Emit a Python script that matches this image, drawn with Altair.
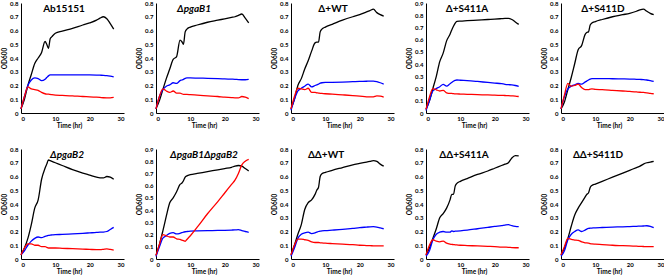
import altair as alt
import pandas as pd

T = [0, 1, 2, 3, 4, 5, 6, 7, 7.5, 8, 8.5, 9, 10, 12, 15, 18, 20, 22, 23, 24, 25, 26, 27]

TITLES = ["Ab15151", "ΔpgaB1", "Δ+WT", "Δ+S411A", "Δ+S411D",
          "ΔpgaB2", "ΔpgaB1ΔpgaB2", "ΔΔ+WT", "ΔΔ+S411A", "ΔΔ+S411D"]
YMAX = [0.8, 0.8, 0.8, 0.9, 0.8, 0.8, 0.9, 0.8, 0.8, 0.8]

P1_BLACK = [0.03,0.10,0.20,0.28,0.36,0.40,0.44,0.52,0.50,0.47,0.54,0.555,0.58,0.595,0.615,0.64,0.655,0.675,0.69,0.70,0.685,0.65,0.61]
P1_BLUE  = [0.03,0.12,0.20,0.24,0.255,0.25,0.235,0.245,0.258,0.27,0.277,0.278,0.278,0.278,0.278,0.277,0.277,0.276,0.275,0.274,0.272,0.268,0.263]
P1_RED   = [0.03,0.12,0.19,0.175,0.17,0.165,0.15,0.14,0.138,0.137,0.135,0.133,0.13,0.128,0.125,0.12,0.118,0.115,0.113,0.111,0.11,0.11,0.113]

P2_BLACK = [0.03,0.09,0.17,0.25,0.32,0.39,0.41,0.53,0.52,0.50,0.59,0.61,0.625,0.64,0.66,0.675,0.685,0.695,0.70,0.71,0.72,0.69,0.655]
P2_BLUE  = [0.03,0.12,0.17,0.195,0.205,0.22,0.215,0.235,0.24,0.245,0.252,0.255,0.255,0.254,0.252,0.25,0.248,0.246,0.245,0.243,0.242,0.242,0.245]
P2_RED   = [0.03,0.12,0.175,0.16,0.15,0.16,0.145,0.145,0.14,0.135,0.135,0.135,0.133,0.13,0.125,0.12,0.115,0.112,0.11,0.11,0.12,0.115,0.105]

P3_BLACK = [0.03,0.10,0.20,0.25,0.32,0.38,0.45,0.51,0.515,0.515,0.59,0.61,0.625,0.645,0.675,0.70,0.715,0.735,0.745,0.755,0.73,0.715,0.705]
P3_BLUE  = [0.02,0.10,0.16,0.18,0.195,0.21,0.19,0.20,0.205,0.21,0.217,0.22,0.222,0.223,0.225,0.228,0.23,0.231,0.232,0.232,0.228,0.22,0.21]
P3_RED   = [0.03,0.12,0.18,0.175,0.17,0.18,0.15,0.15,0.147,0.145,0.143,0.142,0.14,0.137,0.132,0.127,0.123,0.118,0.117,0.118,0.125,0.122,0.115]

P4_BLACK = [0.03,0.10,0.20,0.30,0.42,0.49,0.59,0.645,0.68,0.71,0.735,0.75,0.752,0.755,0.76,0.765,0.768,0.772,0.774,0.775,0.765,0.745,0.725]
P4_BLUE  = [0.02,0.10,0.18,0.20,0.215,0.235,0.22,0.24,0.25,0.26,0.267,0.27,0.268,0.265,0.258,0.25,0.245,0.24,0.235,0.232,0.23,0.225,0.218]
P4_RED   = [0.03,0.13,0.20,0.19,0.18,0.185,0.165,0.16,0.16,0.158,0.157,0.156,0.155,0.153,0.15,0.148,0.146,0.144,0.143,0.142,0.14,0.138,0.135]

P5_BLACK = [0.03,0.08,0.17,0.26,0.36,0.46,0.49,0.57,0.585,0.59,0.64,0.655,0.665,0.68,0.70,0.715,0.725,0.74,0.75,0.755,0.74,0.725,0.715]
P5_BLUE  = [0.03,0.12,0.175,0.195,0.205,0.215,0.21,0.225,0.232,0.24,0.247,0.25,0.25,0.25,0.249,0.248,0.247,0.245,0.244,0.243,0.24,0.235,0.23]
P5_RED   = [0.03,0.13,0.215,0.195,0.20,0.21,0.185,0.17,0.17,0.17,0.173,0.175,0.172,0.17,0.165,0.16,0.157,0.153,0.151,0.15,0.147,0.143,0.14]

P6_BLACK = [0.03,0.08,0.15,0.25,0.37,0.43,0.58,0.66,0.69,0.72,0.715,0.71,0.70,0.68,0.65,0.625,0.61,0.595,0.59,0.59,0.60,0.595,0.58]
P6_BLUE  = [0.03,0.06,0.10,0.13,0.15,0.16,0.155,0.165,0.168,0.172,0.174,0.175,0.177,0.179,0.183,0.187,0.19,0.193,0.195,0.196,0.20,0.215,0.23]
P6_RED   = [0.03,0.08,0.11,0.11,0.10,0.10,0.09,0.09,0.085,0.08,0.08,0.08,0.08,0.078,0.075,0.072,0.07,0.068,0.068,0.07,0.073,0.07,0.065]

P7_BLACK = [0.03,0.12,0.23,0.35,0.46,0.50,0.55,0.61,0.62,0.64,0.67,0.68,0.69,0.70,0.715,0.73,0.74,0.75,0.76,0.765,0.76,0.74,0.72]
P7_BLUE  = [0.02,0.10,0.17,0.19,0.21,0.215,0.205,0.21,0.215,0.22,0.223,0.225,0.228,0.23,0.232,0.234,0.235,0.237,0.238,0.24,0.232,0.225,0.218]
P7_RED   = [0.03,0.12,0.20,0.19,0.18,0.18,0.165,0.16,0.155,0.15,0.145,0.16,0.19,0.26,0.37,0.47,0.54,0.61,0.645,0.70,0.77,0.80,0.815]

P8_BLACK = [0.03,0.10,0.18,0.25,0.36,0.41,0.43,0.47,0.50,0.52,0.60,0.62,0.63,0.645,0.665,0.685,0.695,0.705,0.71,0.715,0.71,0.69,0.675]
P8_BLUE  = [0.02,0.08,0.15,0.18,0.19,0.195,0.185,0.19,0.195,0.20,0.203,0.205,0.207,0.21,0.215,0.222,0.228,0.232,0.234,0.235,0.232,0.226,0.22]
P8_RED   = [0.03,0.10,0.145,0.145,0.14,0.135,0.125,0.12,0.12,0.12,0.118,0.117,0.115,0.112,0.108,0.104,0.10,0.098,0.097,0.096,0.095,0.095,0.095]

P9_BLACK = [0.03,0.08,0.15,0.22,0.30,0.33,0.37,0.43,0.47,0.47,0.53,0.55,0.565,0.585,0.615,0.64,0.66,0.68,0.69,0.70,0.735,0.752,0.75]
P9_BLUE  = [0.02,0.06,0.14,0.18,0.195,0.20,0.195,0.195,0.205,0.20,0.202,0.203,0.205,0.21,0.22,0.23,0.237,0.243,0.247,0.25,0.242,0.237,0.235]
P9_RED   = [0.03,0.10,0.14,0.13,0.125,0.13,0.115,0.108,0.106,0.105,0.103,0.102,0.10,0.098,0.095,0.092,0.09,0.087,0.086,0.085,0.083,0.082,0.082]

P10_BLACK = [0.03,0.08,0.15,0.24,0.32,0.37,0.41,0.45,0.47,0.48,0.52,0.535,0.545,0.565,0.595,0.625,0.645,0.665,0.675,0.69,0.70,0.705,0.71]
P10_BLUE  = [0.02,0.06,0.14,0.18,0.20,0.212,0.20,0.21,0.217,0.222,0.224,0.225,0.227,0.229,0.232,0.234,0.236,0.238,0.239,0.24,0.242,0.238,0.228]
P10_RED   = [0.03,0.09,0.15,0.142,0.138,0.135,0.125,0.118,0.117,0.115,0.112,0.11,0.108,0.105,0.10,0.097,0.095,0.093,0.092,0.091,0.09,0.09,0.09]

SERIES = [
    (P1_BLACK, P1_BLUE, P1_RED), (P2_BLACK, P2_BLUE, P2_RED),
    (P3_BLACK, P3_BLUE, P3_RED), (P4_BLACK, P4_BLUE, P4_RED),
    (P5_BLACK, P5_BLUE, P5_RED), (P6_BLACK, P6_BLUE, P6_RED),
    (P7_BLACK, P7_BLUE, P7_RED), (P8_BLACK, P8_BLUE, P8_RED),
    (P9_BLACK, P9_BLUE, P9_RED), (P10_BLACK, P10_BLUE, P10_RED),
]

# layout (not data)
W, H = 103, 110
TITLE_X = [43, 38, 42, 41, 42, 46, 48, 35, 38, 37]
FONT = "Lato"


def panel(i):
    black, blue, red = SERIES[i]
    rows = []
    for name, vals in (("black", black), ("blue", blue), ("red", red)):
        for t, v in zip(T, vals):
            rows.append({"t": t, "v": v, "s": name})
    df = pd.DataFrame(rows)
    ymax = YMAX[i]
    yticks = [round(k * 0.1, 1) for k in range(int(round(ymax * 10)) + 1)]
    lines = alt.Chart(df).mark_line(strokeWidth=1.3, interpolate="monotone").encode(
        x=alt.X("t:Q", scale=alt.Scale(domain=[0, 30], nice=False),
                axis=alt.Axis(values=[0, 10, 20, 30], title="Time (hr)", format="d",
                              titleX=48)),
        y=alt.Y("v:Q", scale=alt.Scale(domain=[0, ymax], nice=False),
                axis=alt.Axis(values=yticks, title="OD600",
                              labelExpr="datum.value == 0 ? '0' : format(datum.value, '.1f')")),
        color=alt.Color("s:N", scale=alt.Scale(domain=["black", "blue", "red"],
                                               range=["#000000", "#0000ff", "#ff0000"]),
                        legend=None),
        order="t:Q",
    )
    italic = "pga" in TITLES[i]
    title = alt.Chart(pd.DataFrame({"label": [TITLES[i]]})).mark_text(
        align="center", baseline="middle", fontSize=10, fontWeight="bold",
        fontStyle="italic" if italic else "normal", font=FONT, color="black"
    ).encode(text="label:N", x=alt.value(TITLE_X[i]), y=alt.value(6))
    return alt.layer(lines, title).properties(width=W, height=H)


chart = alt.concat(*[panel(i) for i in range(10)], columns=5,
                   spacing={"row": 36, "column": 32}, bounds="flush").properties(
    padding={"left": 1, "top": 0, "right": 0, "bottom": 0},
    background="white",
).configure_view(stroke=None).configure_axis(
    grid=False, ticks=False, domainColor="black", domainWidth=1,
    labelFont=FONT, labelFontSize=6, labelFontWeight="bold", labelColor="black",
    labelPadding=3, titleFont=FONT, titleFontSize=6.5, titleFontWeight="bold",
    titleColor="black", titlePadding=2,
).configure_axisX(labelPadding=2, titlePadding=1)

chart.save("out.html", embed_options={"renderer": "svg", "actions": False})
